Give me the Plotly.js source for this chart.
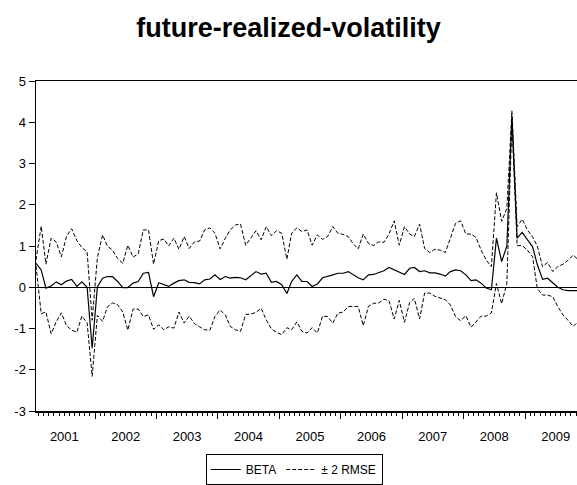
<!DOCTYPE html>
<html>
<head>
<meta charset="utf-8">
<script src="https://cdn.plot.ly/plotly-3.0.1.min.js"></script>
<style>html,body{margin:0;padding:0;background:#fff;}#chart{width:577px;height:485px;}</style>
</head>
<body>
<div id="chart"></div>
<script>
// Monthly observations starting 2001-01
var startYear = 2001, startMonth = 1;

var beta = [0.58,0.42,-0.02,0.03,0.13,0.06,0.15,0.19,0.02,0.13,
  0.00,-1.48,0.01,0.22,0.26,0.26,0.14,-0.01,-0.01,0.10,
  0.14,0.34,0.36,-0.23,0.11,0.07,0.02,0.10,0.16,0.18,
  0.12,0.11,0.08,0.18,0.20,0.30,0.19,0.26,0.22,0.24,
  0.23,0.18,0.27,0.38,0.32,0.34,0.12,0.14,0.06,-0.15,
  0.14,0.30,0.14,0.14,0.02,0.08,0.23,0.26,0.30,0.34,
  0.34,0.38,0.30,0.23,0.18,0.30,0.31,0.36,0.40,0.48,
  0.42,0.35,0.31,0.46,0.48,0.38,0.40,0.35,0.35,0.32,
  0.27,0.38,0.42,0.40,0.30,0.16,0.18,0.10,-0.02,-0.06,
  1.19,0.62,1.00,4.15,1.19,1.33,1.15,0.98,0.55,0.19,
  0.22,0.10,0.00,-0.06,-0.08,-0.08,-0.08];

var upper = [0.66,1.48,0.56,1.19,1.10,0.74,1.23,1.42,1.13,0.96,
  0.86,-0.80,0.72,1.27,1.00,0.90,0.70,0.58,1.02,0.73,
  0.81,1.39,1.39,0.56,1.13,1.17,1.00,1.19,0.92,1.23,
  0.94,1.10,1.12,1.39,1.44,1.31,0.93,1.19,1.39,1.51,
  1.53,1.02,1.19,1.37,1.15,1.47,1.25,1.37,1.31,0.68,
  1.31,1.44,1.35,1.39,1.02,1.27,1.16,1.23,1.47,1.31,
  1.28,1.23,1.06,0.93,1.29,1.06,1.01,1.10,1.09,1.29,
  1.61,1.02,1.47,1.29,1.23,1.53,0.94,0.84,0.92,0.90,
  0.84,1.19,1.55,1.61,1.29,1.29,1.21,0.90,0.66,0.50,
  2.29,1.60,1.91,4.28,1.47,1.65,1.39,1.22,1.00,0.50,
  0.60,0.38,0.50,0.56,0.66,0.78,0.66];

var lower = [0.52,-0.64,-0.60,-1.13,-0.84,-0.62,-0.93,-1.04,-1.09,-0.70,
  -0.86,-2.16,-0.68,-0.83,-0.48,-0.38,-0.42,-0.60,-1.04,-0.53,
  -0.53,-0.71,-0.67,-1.02,-0.91,-1.03,-0.96,-0.99,-0.60,-0.87,
  -0.70,-0.88,-0.96,-1.03,-1.04,-0.71,-0.55,-0.67,-0.95,-1.03,
  -1.07,-0.66,-0.65,-0.61,-0.51,-0.79,-1.01,-1.09,-1.15,-0.98,
  -1.03,-0.84,-1.07,-1.11,-0.98,-1.11,-0.70,-0.71,-0.87,-0.63,
  -0.60,-0.47,-0.46,-0.47,-0.93,-0.46,-0.39,-0.38,-0.29,-0.33,
  -0.77,-0.32,-0.85,-0.37,-0.27,-0.77,-0.14,-0.14,-0.22,-0.26,
  -0.30,-0.43,-0.71,-0.81,-0.69,-0.97,-0.85,-0.70,-0.70,-0.62,
  0.09,-0.40,0.10,4.02,1.01,1.01,0.90,0.74,-0.03,-0.19,
  -0.19,-0.23,-0.47,-0.67,-0.81,-0.95,-0.82];

var yTickValues = [-3, -2, -1, 0, 1, 2, 3, 4, 5];
var yTickLabels = ["-3", "-2", "-1", "0", "1", "2", "3", "4", "5"];
var seriesNames = ["BETA", "\u00b1 2 RMSE"];
var titleText = "future-realized-volatility";

function pad(n){ return (n < 10 ? "0" : "") + n; }
var dates = [];
for (var i = 0; i < beta.length; i++) {
  var m = startMonth - 1 + i;
  var y = startYear + Math.floor(m / 12);
  dates.push(y + "-" + pad((m % 12) + 1) + "-15");
}

var dashStyle = "4px,2px";
var traces = [
  {x: dates, y: beta, type: "scatter", mode: "lines", name: seriesNames[0],
   line: {color: "#000", width: 1.2}},
  {x: dates, y: upper, type: "scatter", mode: "lines", name: seriesNames[1],
   legendgroup: "band", line: {color: "#000", width: 1, dash: dashStyle}},
  {x: dates, y: lower, type: "scatter", mode: "lines", name: seriesNames[1],
   legendgroup: "band", showlegend: false, line: {color: "#000", width: 1, dash: dashStyle}}
];

var layout = {
  width: 577, height: 485,
  margin: {l: 36, r: 0, t: 81, b: 74},
  paper_bgcolor: "#fff", plot_bgcolor: "#fff",
  font: {family: "Liberation Sans, Arial, sans-serif", color: "#000", size: 13},
  title: {text: "<b>" + titleText + "</b>", font: {size: 27, family: "Liberation Sans, Arial, sans-serif", color: "#000"},
          x: 0.5, xref: "container", y: 1 - 28/485, yref: "container", yanchor: "middle"},
  showlegend: true,
  legend: {orientation: "h", x: 0.51, xref: "container", xanchor: "center",
           y: (485 - 454)/485, yref: "container", yanchor: "top",
           bordercolor: "#000", borderwidth: 1, font: {size: 12}, bgcolor: "#fff",
           itemwidth: 30, tracegroupgap: 0},
  xaxis: {type: "date", range: ["2001-01-15", "2009-11-06"],
          showline: true, linecolor: "#000", linewidth: 1.5, mirror: true,
          showgrid: false, zeroline: false,
          ticks: "outside", ticklen: 6, tickwidth: 1, tickcolor: "#000",
          dtick: "M12", tick0: "2001-01-01", tickformat: "%Y", ticklabelmode: "period",
          ticklabelstandoff: 7,
          tickfont: {size: 13},
          minor: {ticks: "outside", ticklen: 3, tickwidth: 1, tickcolor: "#000", dtick: "M1", tick0: "2001-01-01", showgrid: false}},
  yaxis: {range: [-3, 5], tickmode: "array", tickvals: yTickValues, ticktext: yTickLabels,
          showline: true, linecolor: "#000", linewidth: 1.5,
          showgrid: false, zeroline: true, zerolinecolor: "#000", zerolinewidth: 1,
          ticks: "outside", ticklen: 6, tickwidth: 1, tickcolor: "#000",
          tickfont: {size: 13}}
};

Plotly.newPlot("chart", traces, layout, {displayModeBar: false, staticPlot: true});
</script>
</body>
</html>
